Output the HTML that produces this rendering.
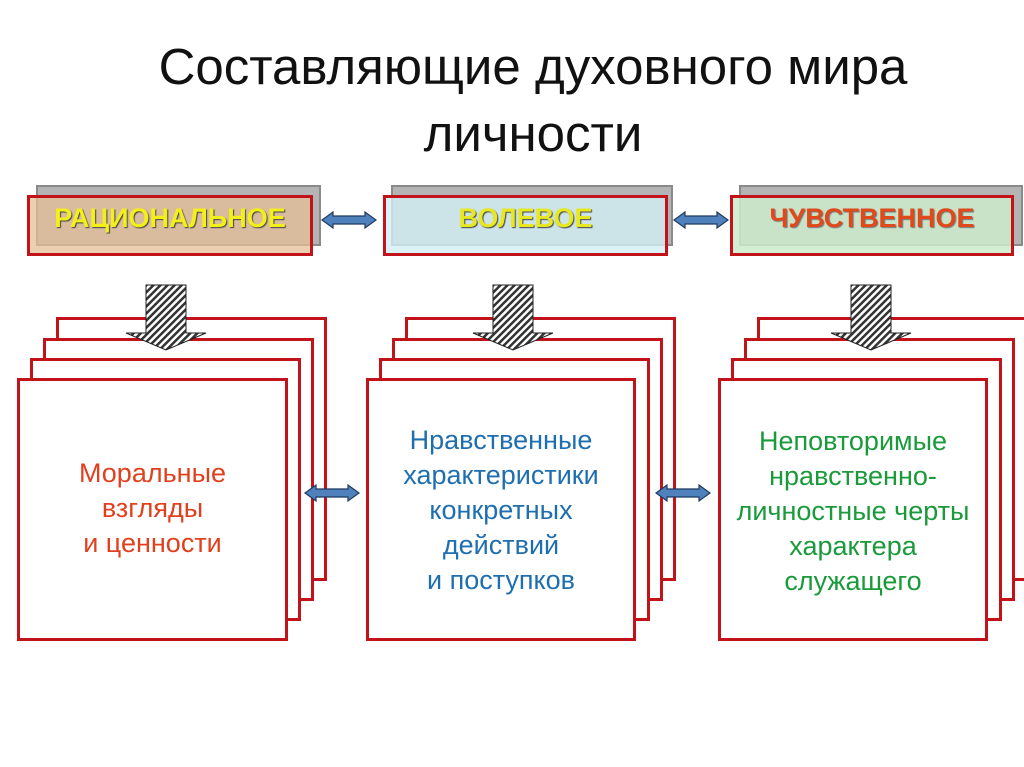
<!DOCTYPE html>
<html><head><meta charset="utf-8"><style>
body{margin:0;width:1024px;height:767px;background:#fff;position:relative;overflow:hidden;font-family:"Liberation Sans",sans-serif}
.a{position:absolute;box-sizing:border-box}
.g{background:#b4b4b4;border:2px solid #8a8a8a}
.r{border:3px solid #c2121a;background:#fff}
.h{display:flex;align-items:center;justify-content:center;font-weight:bold;font-size:27px;padding-bottom:14px;text-shadow:1px 1px 1px #444}
.t{position:absolute;left:-10px;right:-10px;text-align:center;font-size:27px;line-height:35px}
</style></head><body>
<div class="a" style="left:0;top:33px;width:1066px;text-align:center;font-size:51px;line-height:67px;color:#111">Составляющие духовного мира<br>личности</div>

<div class="a g" style="left:36px;top:185px;width:285px;height:61px"></div>
<div class="a r h" style="left:27px;top:195px;width:286px;height:61px;background:rgba(230,190,150,.75);color:#f2ef1a">РАЦИОНАЛЬНОЕ</div>
<div class="a g" style="left:391px;top:185px;width:282px;height:61px"></div>
<div class="a r h" style="left:383px;top:195px;width:285px;height:61px;background:rgba(210,240,245,.8);color:#e8e820">ВОЛЕВОЕ</div>
<div class="a g" style="left:739px;top:185px;width:284px;height:61px"></div>
<div class="a r h" style="left:730px;top:195px;width:284px;height:61px;background:rgba(205,235,205,.85);color:#e04a1a;text-shadow:1px 1px 1px #777">ЧУВСТВЕННОЕ</div>

<div class="a r" style="left:56px;top:317px;width:271px;height:264px"></div>
<div class="a r" style="left:43px;top:338px;width:271px;height:263px"></div>
<div class="a r" style="left:30px;top:358px;width:271px;height:263px"></div>
<div class="a r" style="left:17px;top:378px;width:271px;height:263px"><div class="t" style="top:75px;color:#e0401e">Моральные<br>взгляды<br>и ценности</div></div>

<div class="a r" style="left:405px;top:317px;width:271px;height:264px"></div>
<div class="a r" style="left:392px;top:338px;width:271px;height:263px"></div>
<div class="a r" style="left:379px;top:358px;width:271px;height:263px"></div>
<div class="a r" style="left:366px;top:378px;width:270px;height:263px"><div class="t" style="top:42px;color:#1f6fb0">Нравственные<br>характеристики<br>конкретных<br>действий<br>и поступков</div></div>

<div class="a r" style="left:757px;top:317px;width:271px;height:264px"></div>
<div class="a r" style="left:744px;top:338px;width:271px;height:263px"></div>
<div class="a r" style="left:731px;top:358px;width:271px;height:263px"></div>
<div class="a r" style="left:718px;top:378px;width:270px;height:263px"><div class="t" style="top:43px;color:#1a9a3a">Неповторимые<br>нравственно-<br>личностные черты<br>характера<br>служащего</div></div>

<svg class="a" style="left:0;top:0" width="1024" height="767">
<defs><pattern id="p" width="5" height="5" patternUnits="userSpaceOnUse" patternTransform="rotate(45)"><rect width="5" height="5" fill="#fff"/><rect width="2.5" height="5" fill="#333"/></pattern>
<g id="da"><polygon points="0,0 11,-8 11,-4 43,-4 43,-8 54,0 43,8 43,4 11,4 11,8" fill="#4f81bd" stroke="#1f3a60" stroke-width="1.2"/></g>
<g id="dn"><polygon points="-20,0 20,0 20,48 40,48 0,65 -40,48 -20,48" fill="url(#p)" stroke="#222" stroke-width="1"/></g></defs>
<use href="#da" x="322" y="220"/><use href="#da" x="674" y="220"/>
<use href="#da" x="305" y="493"/><use href="#da" x="656" y="493"/>
<use href="#dn" x="166" y="285"/><use href="#dn" x="513" y="285"/><use href="#dn" x="871" y="285"/>
</svg>
</body></html>
